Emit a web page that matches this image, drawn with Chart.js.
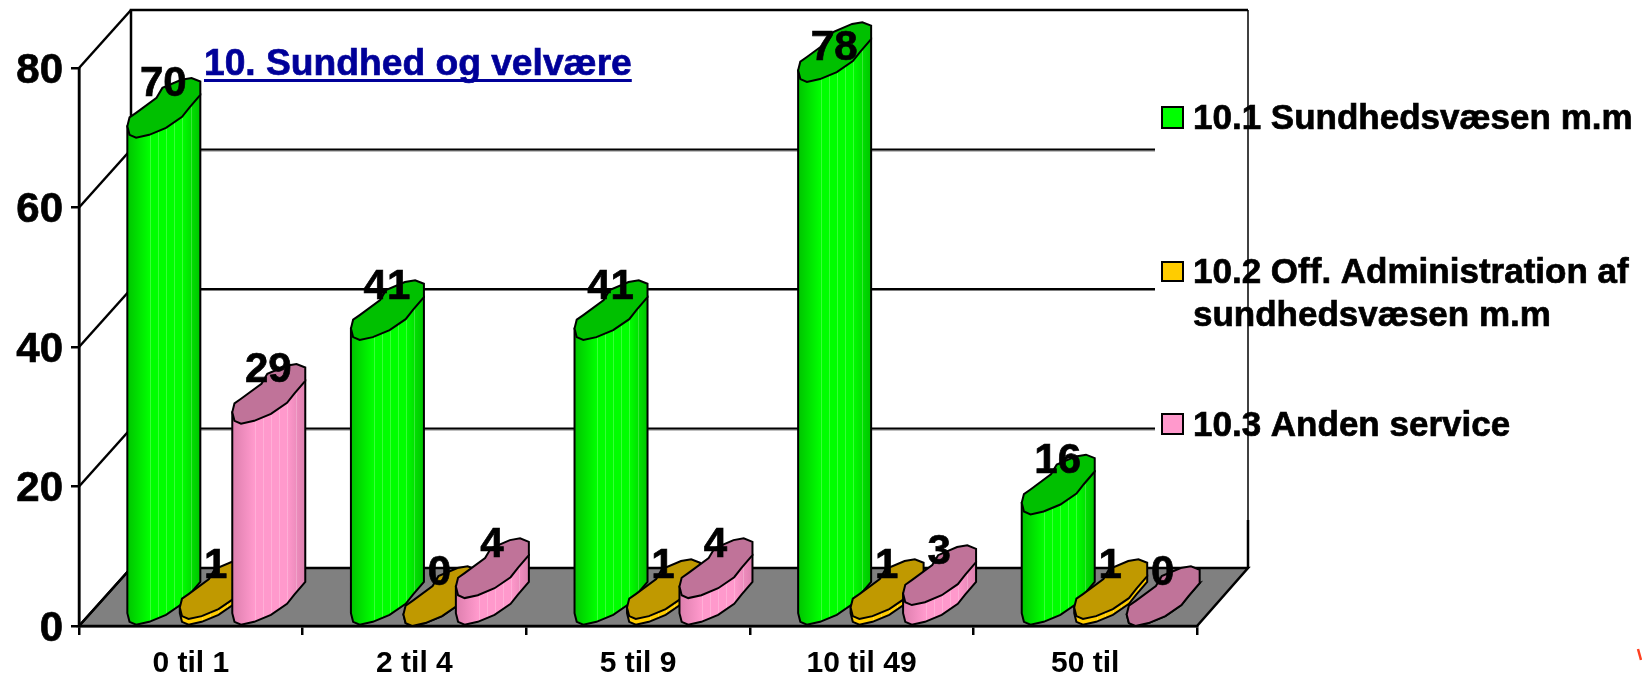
<!DOCTYPE html>
<html>
<head>
<meta charset="utf-8">
<style>
  html, body { margin: 0; padding: 0; background: #fff; }
  canvas { display: block; }
</style>
<script src="https://cdn.jsdelivr.net/npm/chart.js@4/dist/chart.umd.min.js"></script>
</head>
<body>
<canvas id="sundhed" width="1642" height="677"></canvas>
<script>
// data
const categories = ['0 til 1', '2 til 4', '5 til 9', '10 til 49', '50 til'];
const sundhedsvaesen = [70, 41, 41, 78, 16];
const administration = [1, 0, 1, 1, 1];
const andenService = [29, 4, 4, 3, 0];
const seriesNames = ['10.1 Sundhedsvæsen m.m', '10.2 Off. Administration af sundhedsvæsen m.m', '10.3 Anden service'];
const yTicks = [0, 20, 40, 60, 80];
const chartTitle = '10. Sundhed og velvære';

const FONT = '"Liberation Sans", Arial, sans-serif';
// how far the back wall is pushed from the front plane
const DEPTH_X = 52;
const DEPTH_Y = 58;
const RIGHT_WALL = 1248;
const GRID_END = 1155;
const CYL_WIDTH = 73;

// colours of each series: side (dark/bright) and darker top
const looks = [
  { edge: '#00c400', mid: '#00ff00', cap: '#00c000', swatch: '#00ff00' },
  { edge: '#ffcc00', mid: '#ffcc00', cap: '#c09900', swatch: '#ffcc00' },
  { edge: '#dd7fae', mid: '#ff99cc', cap: '#c07399', swatch: '#ff99cc' }
];
const legendRows = [
  { boxTop: 107, boxBottom: 128, baseline: 129 },
  { boxTop: 262, boxBottom: 281, baseline: 283 },
  { boxTop: 414, boxBottom: 434, baseline: 436 }
];

// faceted outline of the cylinder top, u across the width, v into the depth (0 = front)
const lowerArc = [[1, .74], [.85, .52], [.75, .36], [.53, .17], [.30, .05], [.12, 0], [.03, .05], [0, .2]];
const upperArc = [[.03, .35], [.12, .43], [.40, .69], [.48, .86], [.74, 1], [.88, 1.03], [1, .97]];

// heavier bold text, the original glyphs are thicker than Liberation at this size
function heavyText(ctx, text, x, y) {
  ctx.fillText(text, x, y);
  ctx.lineWidth = .7;
  ctx.strokeStyle = ctx.fillStyle;
  ctx.strokeText(text, x, y);
}

function cylinder(ctx, x0, yTop, yBase, look) {
  const px = u => x0 + u * CYL_WIDTH;
  const py = (v, y) => y - v * DEPTH_Y;

  // side of the cylinder
  const side = new Path2D();
  side.moveTo(px(1), py(.74, yTop));
  lowerArc.forEach(p => side.lineTo(px(p[0]), py(p[1], yBase)));
  side.lineTo(px(0), py(.2, yTop));
  side.closePath();
  const g = ctx.createLinearGradient(x0, 0, x0 + CYL_WIDTH, 0);
  g.addColorStop(0, look.edge);
  g.addColorStop(.3, look.mid);
  g.addColorStop(.75, look.mid);
  g.addColorStop(1, look.edge);
  ctx.fillStyle = g;
  ctx.fill(side);
  // thin facet lines
  ctx.save();
  ctx.clip(side);
  ctx.strokeStyle = 'rgba(255,255,255,.22)';
  ctx.lineWidth = 1;
  [.31, .42, .53, .64, .75, .87].forEach(u => {
    ctx.beginPath();
    ctx.moveTo(Math.round(px(u)) + .5, 0);
    ctx.lineTo(Math.round(px(u)) + .5, 677);
    ctx.stroke();
  });
  ctx.restore();
  ctx.strokeStyle = '#000';
  ctx.lineWidth = 2;
  ctx.stroke(side);

  // top of the cylinder
  const top = new Path2D();
  lowerArc.concat(upperArc).forEach((p, i) => {
    if (i === 0) top.moveTo(px(p[0]), py(p[1], yTop));
    else top.lineTo(px(p[0]), py(p[1], yTop));
  });
  top.closePath();
  ctx.fillStyle = look.cap;
  ctx.fill(top);
  ctx.stroke(top);
}

const box3d = {
  id: 'box3d',
  beforeDatasetsDraw(chart) {
    const ctx = chart.ctx;
    const a = chart.chartArea;
    const y = chart.scales.y;
    ctx.save();
    ctx.lineWidth = 2.5;
    ctx.strokeStyle = '#000';

    // floor
    ctx.beginPath();
    ctx.moveTo(a.left, a.bottom);
    ctx.lineTo(a.right, a.bottom);
    ctx.lineTo(a.right + DEPTH_X - 1, a.bottom - DEPTH_Y);
    ctx.lineTo(a.left + DEPTH_X, a.bottom - DEPTH_Y);
    ctx.closePath();
    ctx.fillStyle = '#808080';
    ctx.fill();
    ctx.stroke();

    // gridlines: diagonal on the side wall, then across the back wall
    yTicks.forEach(t => {
      const py = y.getPixelForValue(t);
      ctx.beginPath();
      ctx.moveTo(a.left, py);
      ctx.lineTo(a.left + DEPTH_X, py - DEPTH_Y);
      ctx.stroke();
      if (t > 0 && t < 80) {
        ctx.fillStyle = '#808080';
        ctx.fillRect(a.left + DEPTH_X, py - DEPTH_Y + 1, GRID_END - a.left - DEPTH_X, 1);
        ctx.fillStyle = '#000';
        ctx.fillRect(a.left + DEPTH_X, py - DEPTH_Y - 1, GRID_END - a.left - DEPTH_X, 2);
      }
    });

    // frame
    ctx.beginPath();
    ctx.moveTo(a.left, a.bottom);
    ctx.lineTo(a.left, a.top);
    ctx.moveTo(a.left + DEPTH_X, a.bottom - DEPTH_Y);
    ctx.lineTo(a.left + DEPTH_X, a.top - DEPTH_Y);
    ctx.lineTo(RIGHT_WALL, a.top - DEPTH_Y);
    ctx.stroke();
    ctx.restore();
  },
  afterDatasetsDraw(chart) {
    const ctx = chart.ctx;
    const a = chart.chartArea;
    const y = chart.scales.y;
    ctx.save();

    // cylinders, from the bar elements of the library
    chart.data.labels.forEach((_, c) => {
      chart.data.datasets.forEach((ds, s) => {
        const el = chart.getDatasetMeta(s).data[c];
        cylinder(ctx, el.x - 11, el.y, el.base, looks[s]);
      });
    });

    // value labels
    ctx.fillStyle = '#000';
    ctx.font = 'bold 42px ' + FONT;
    ctx.textAlign = 'center';
    ctx.textBaseline = 'middle';
    chart.data.labels.forEach((_, c) => {
      chart.data.datasets.forEach((ds, s) => {
        const el = chart.getDatasetMeta(s).data[c];
        heavyText(ctx, String(ds.data[c]), el.x + 25, Math.max(el.y - 53, 48));
      });
    });

    // y tick labels, sit a little under their tick in the original
    ctx.textAlign = 'right';
    yTicks.forEach(t => heavyText(ctx, String(t), 63, y.getPixelForValue(t) + 3));

    // title with underline
    ctx.textAlign = 'left';
    ctx.textBaseline = 'alphabetic';
    ctx.font = 'bold 37.2px ' + FONT;
    ctx.fillStyle = '#000099';
    heavyText(ctx, chartTitle, 204, 75);
    ctx.fillRect(204, 79, ctx.measureText(chartTitle).width, 3);

    // legend
    ctx.font = 'bold 35px ' + FONT;
    seriesNames.forEach((name, i) => {
      const row = legendRows[i];
      ctx.fillStyle = looks[i].swatch;
      ctx.strokeStyle = '#000';
      ctx.lineWidth = 2;
      ctx.fillRect(1162, row.boxTop, 21, row.boxBottom - row.boxTop);
      ctx.strokeRect(1162, row.boxTop, 21, row.boxBottom - row.boxTop);
      ctx.fillStyle = '#000';
      // wrap names that do not fit next to the chart
      let line = '';
      let by = row.baseline;
      name.split(' ').forEach(word => {
        const next = line ? line + ' ' + word : word;
        if (ctx.measureText(next).width > 445) {
          heavyText(ctx, line, 1193, by);
          by += 43;
          line = word;
        } else {
          line = next;
        }
      });
      heavyText(ctx, line, 1193, by);
    });

    // right wall runs in front of the legend text
    ctx.strokeStyle = '#000';
    ctx.lineWidth = 1.5;
    ctx.beginPath();
    ctx.moveTo(RIGHT_WALL, a.top - DEPTH_Y);
    ctx.lineTo(RIGHT_WALL, a.bottom - DEPTH_Y);
    ctx.stroke();
    ctx.lineWidth = 2.5;
    ctx.beginPath();
    ctx.moveTo(RIGHT_WALL, 520);
    ctx.lineTo(RIGHT_WALL, a.bottom - DEPTH_Y);
    ctx.stroke();

    // small red speck in the corner of the original
    ctx.strokeStyle = '#ff4020';
    ctx.lineWidth = 2.5;
    ctx.beginPath();
    ctx.moveTo(1638, 649);
    ctx.lineTo(1641, 660);
    ctx.stroke();
    ctx.restore();
  }
};

let context = document.querySelector('#sundhed').getContext('2d');
new Chart(context, {
  type: 'bar',
  data: {
    labels: categories,
    datasets: [
      { label: seriesNames[0], data: sundhedsvaesen, backgroundColor: 'transparent' },
      { label: seriesNames[1], data: administration, backgroundColor: 'transparent' },
      { label: seriesNames[2], data: andenService, backgroundColor: 'transparent' }
    ]
  },
  plugins: [box3d],
  options: {
    responsive: false,
    animation: false,
    devicePixelRatio: 1,
    categoryPercentage: .704,
    barPercentage: 1,
    layout: { padding: { left: 0, top: 68, right: 445, bottom: 0 } },
    plugins: { legend: { display: false }, tooltip: { enabled: false } },
    scales: {
      x: {
        afterFit(scale) { scale.height = 51; },
        grid: { offset: true, drawOnChartArea: false, color: '#000', lineWidth: 2.5, tickLength: 9 },
        border: { display: true, color: '#000', width: 2.5 },
        ticks: { color: '#000', font: { family: FONT, size: 30, weight: 'bold' }, padding: 11, maxRotation: 0, autoSkip: false }
      },
      y: {
        min: 0,
        max: 80,
        afterFit(scale) { scale.width = 79; },
        afterBuildTicks(scale) { scale.ticks = yTicks.map(v => ({ value: v })); },
        grid: { drawOnChartArea: false, color: '#000', lineWidth: 2.5, tickLength: 8 },
        border: { display: true, color: '#000', width: 2.5 },
        // labels are drawn by the plugin, 3px lower than the library would put them
        ticks: { display: false }
      }
    }
  }
});
</script>
</body>
</html>
